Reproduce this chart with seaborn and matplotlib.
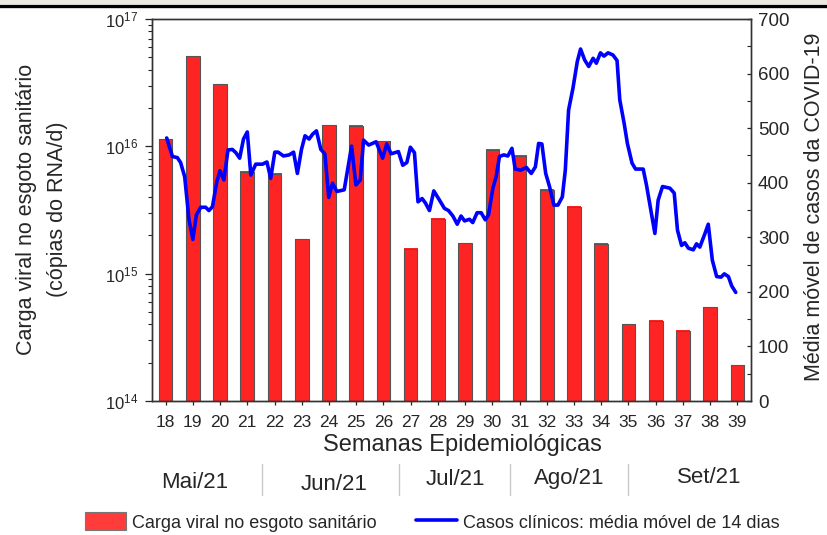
import matplotlib
matplotlib.use('Agg')
import matplotlib.pyplot as plt
import matplotlib.transforms as mtransforms
from matplotlib.colors import LinearSegmentedColormap
from matplotlib.patches import Patch, Rectangle
from matplotlib.lines import Line2D
from matplotlib.ticker import LogLocator, MultipleLocator, NullFormatter
import seaborn as sns
import pandas as pd
import numpy as np


# weekly viral load in sewage (RNA copies/day)
weeks = list(range(18, 40))
viral_load = [1.14e16, 5.1e16, 3.07e16, 6.3e15, 6.1e15, 1.86e15, 1.47e16, 1.45e16,
              1.10e16, 1.57e15, 2.69e15, 1.73e15, 9.4e15, 8.4e15, 4.55e15, 3.36e15,
              1.72e15, 4.0e14, 4.27e14, 3.55e14, 5.44e14, 1.91e14]

# 14-day moving average of clinical cases
line_weeks = [18.04, 18.25, 18.43, 18.55, 18.70, 18.86, 19.00, 19.13, 19.29, 19.47,
              19.59, 19.72, 19.88, 20.00, 20.14, 20.29, 20.45, 20.58, 20.72, 20.86,
              21.00, 21.13, 21.31, 21.56, 21.72, 21.86, 22.01, 22.13, 22.33, 22.54,
              22.70, 22.84, 22.99, 23.12, 23.27, 23.40, 23.54, 23.70, 23.85, 23.99,
              24.13, 24.29, 24.56, 24.83, 24.99, 25.15, 25.27, 25.46, 25.73, 25.97,
              26.12, 26.28, 26.55, 26.71, 26.86, 26.99, 27.14, 27.27, 27.42, 27.54,
              27.69, 27.85, 28.06, 28.24, 28.39, 28.55, 28.71, 28.85, 28.98, 29.16,
              29.28, 29.44, 29.59, 29.74, 29.86, 30.02, 30.14, 30.26, 30.42, 30.57,
              30.72, 30.84, 31.04, 31.25, 31.43, 31.58, 31.70, 31.82, 31.96, 32.10,
              32.26, 32.41, 32.57, 32.68, 32.80, 32.96, 33.12, 33.24, 33.39, 33.54,
              33.70, 33.82, 33.97, 34.10, 34.25, 34.43, 34.58, 34.68, 34.84, 34.96,
              35.13, 35.26, 35.54, 35.66, 35.84, 35.97, 36.09, 36.25, 36.52, 36.68,
              36.80, 36.95, 37.07, 37.20, 37.38, 37.50, 37.62, 37.81, 37.93, 38.08,
              38.24, 38.40, 38.52, 38.67, 38.79, 38.94]
line_cases = [482, 448, 446, 437, 411, 332, 296, 341, 355, 355,
              349, 356, 402, 422, 405, 460, 461, 455, 445, 480,
              493, 414, 434, 434, 438, 408, 456, 456, 449, 451,
              456, 417, 461, 486, 480, 489, 495, 461, 453, 373,
              399, 384, 387, 467, 396, 405, 478, 469, 475, 445,
              471, 453, 457, 432, 437, 465, 455, 365, 371, 363,
              349, 385, 368, 353, 349, 339, 324, 339, 330, 333,
              327, 345, 345, 332, 341, 390, 411, 448, 451, 449,
              463, 425, 423, 428, 417, 429, 472, 471, 417, 393,
              359, 359, 374, 423, 533, 573, 622, 645, 625, 613,
              628, 619, 638, 632, 638, 634, 624, 552, 509, 472,
              436, 425, 425, 396, 344, 307, 368, 393, 390, 381,
              313, 285, 290, 280, 277, 288, 282, 307, 324, 258,
              228, 227, 233, 228, 211, 199]

months = ['Mai/21', 'Jun/21', 'Jul/21', 'Ago/21', 'Set/21']
month_x = [19.07, 24.18, 28.63, 32.83, 37.98]
month_y = [0.099, 0.095, 0.104, 0.106, 0.108]
month_breaks = [21.53, 26.57, 30.66, 35.0]

bar_red = '#FF3B3B'
line_blue = '#0000FF'
red_fade = LinearSegmentedColormap.from_list('red_fade', ['#FF5656', '#FF2424'])

sns.set_style('ticks')
plt.rcParams['font.family'] = ['Liberation Sans', 'DejaVu Sans']
plt.rcParams['axes.linewidth'] = 1.0

fig = plt.figure(figsize=(8.27, 5.35), dpi=100)

# band and rule at the very top
fig.patches.append(Rectangle((0, 1 - 4 / 535), 1, 4 / 535, transform=fig.transFigure,
                             facecolor='#ECE9E1', edgecolor='none', zorder=0))
fig.add_artist(Line2D([0, 1], [1 - 5.5 / 535] * 2, transform=fig.transFigure,
                      color='black', lw=2.4))

ax = fig.add_axes([152 / 827, 1 - 401 / 535, 599 / 827, 382 / 535])

df = pd.DataFrame({'week': weeks, 'load': viral_load})
sns.barplot(data=df, x='week', y='load', native_scale=True, width=0.5,
            color=bar_red, saturation=1, edgecolor='#555555', linewidth=0.8, ax=ax)
ax.set_yscale('log')
ax.set_ylim(1e14, 1e17)
ax.set_xlim(17.5, 39.5)

# vertical red gradient inside each bar
grad = np.linspace(0, 1, 64).reshape(-1, 1)
to_axes = ax.transAxes.inverted()
for bar in list(ax.patches):
    bb = bar.get_window_extent()
    (x0, y0), (x1, y1) = to_axes.transform([[bb.x0, bb.y0], [bb.x1, bb.y1]])
    ax.imshow(grad, cmap=red_fade, extent=(x0, x1, y0, y1), transform=ax.transAxes,
              aspect='auto', origin='lower', clip_path=bar, zorder=bar.get_zorder() - 0.1,
              interpolation='bilinear')
    bar.set_facecolor('none')
ax.set_xlim(17.5, 39.5)
ax.set_ylim(1e14, 1e17)

ax.set_xticks(weeks)
ax.set_xticklabels([str(w) for w in weeks], family=['Liberation Sans Narrow', 'Liberation Sans'],
                   fontsize=12.5)
ax.yaxis.set_major_locator(LogLocator(base=10, numticks=10))
ax.yaxis.set_minor_locator(LogLocator(base=10, subs=range(2, 10), numticks=20))
ax.yaxis.set_minor_formatter(NullFormatter())
ax.tick_params(axis='y', which='major', direction='out', length=5, width=0.9, labelsize=12, pad=5)
ax.tick_params(axis='y', which='minor', direction='out', length=3, width=0.8)
ax.tick_params(axis='x', direction='out', length=3, width=0.9, pad=7)
ax.set_xlabel('')
ax.set_ylabel('')
for s in ax.spines.values():
    s.set_color('#333333')

ax2 = ax.twinx()
sns.lineplot(x=line_weeks, y=line_cases, sort=False, estimator=None,
             color=line_blue, lw=2.6, ax=ax2)
ax2.set_ylim(0, 700)
ax2.yaxis.set_major_locator(MultipleLocator(100))
ax2.yaxis.set_minor_locator(MultipleLocator(50))
ax2.tick_params(axis='y', which='major', direction='in', length=3, width=0.9, labelsize=13.5, pad=5)
ax2.tick_params(axis='y', which='minor', direction='in', length=3, width=0.8)
for s in ax2.spines.values():
    s.set_color('#333333')

fig.text(42 / 827, 1 - 209 / 535, 'Carga viral no esgoto sanitário\n(cópias do RNA/d)',
         rotation=90, ha='center', va='center', fontsize=15.5, linespacing=1.6, multialignment='center')
fig.text(815 / 827, 1 - 207 / 535, 'Média móvel de casos da COVID-19',
         rotation=90, ha='center', va='center', fontsize=15.5)
fig.text(462 / 827, 1 - 445 / 535, 'Semanas Epidemiológicas', ha='center', va='center', fontsize=17)

# month row under the week axis
trans = mtransforms.blended_transform_factory(ax.transData, fig.transFigure)
for name, mx, my in zip(months, month_x, month_y):
    fig.text(mx, my, name, transform=trans, ha='center', va='center', fontsize=16)
for b in month_breaks:
    fig.add_artist(Line2D([b, b], [1 - 495 / 535, 1 - 464 / 535], transform=trans,
                          color='#C8C8C8', lw=1.0))

handles = [Patch(facecolor=bar_red, edgecolor='#777777', linewidth=0.8),
           Line2D([0], [0], color=line_blue, lw=2.6)]
labels = ['Carga viral no esgoto sanitário', 'Casos clínicos: média móvel de 14 dias']
fig.legend(handles, labels, loc='center', bbox_to_anchor=(432 / 827, 1 - 522 / 535),
           ncol=2, frameon=False, fontsize=13, handlelength=2.3, handleheight=1.15,
           handletextpad=0.3, columnspacing=2.2)

fig.savefig('out.png', dpi=100)
